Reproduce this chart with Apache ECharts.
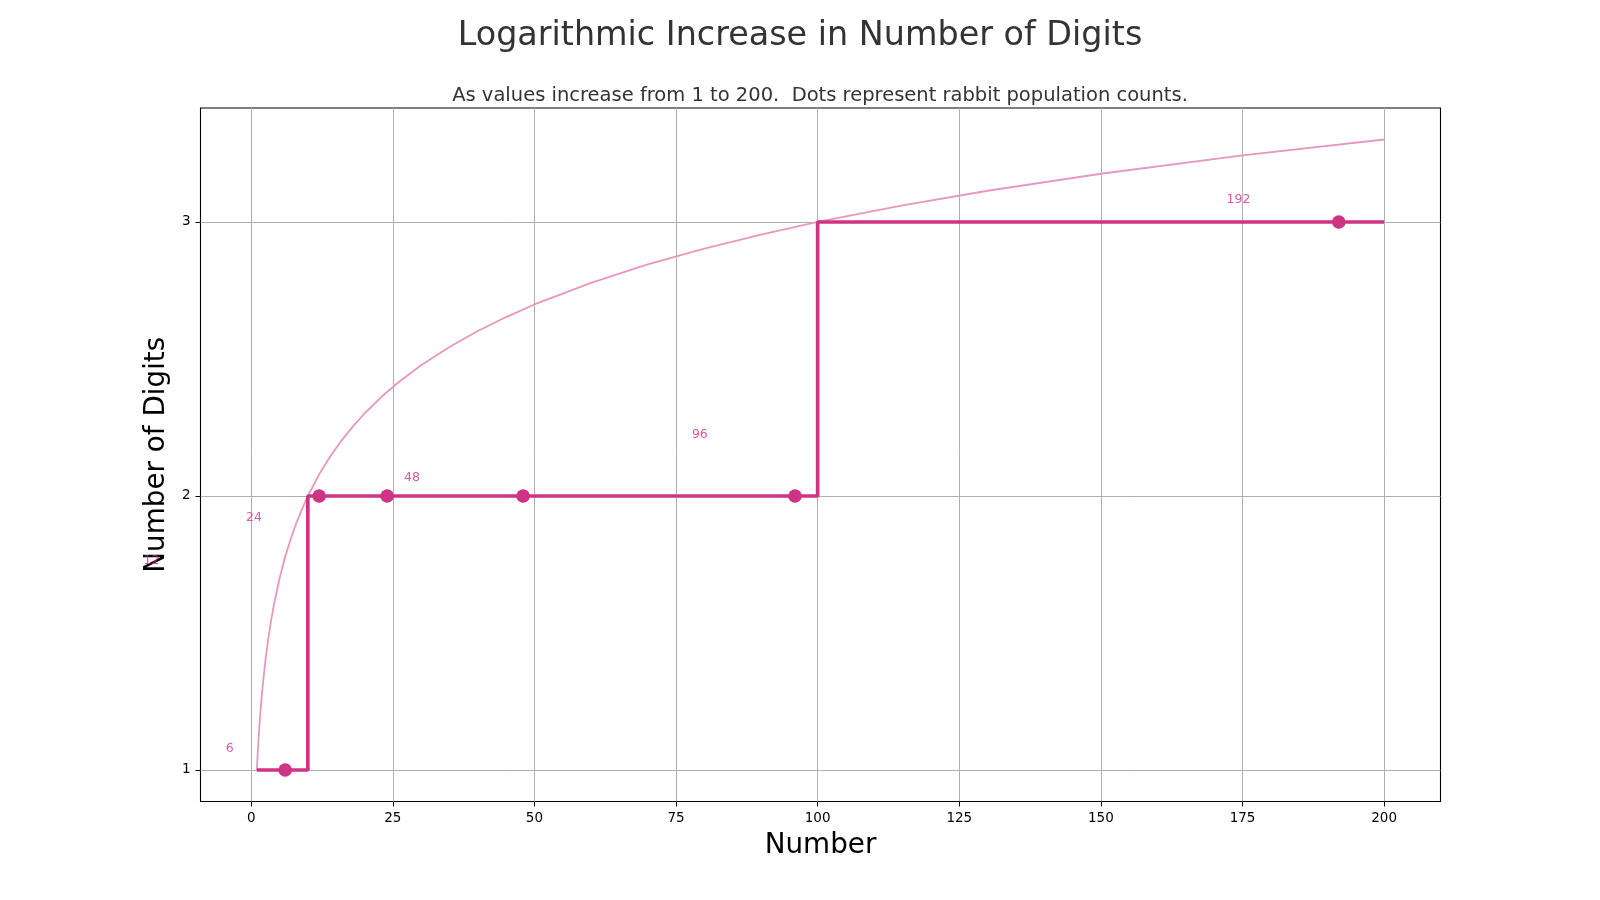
<!DOCTYPE html>
<html>
<head>
<meta charset="utf-8">
<title>Logarithmic Increase in Number of Digits</title>
<script src="https://cdn.jsdelivr.net/npm/echarts@6/dist/echarts.min.js"></script>
<style>
	html, body { margin: 0; padding: 0; background: #fff; overflow: hidden; }
	#chart { width: 1600px; height: 900px; }
</style>
</head>
<body>
<div id="chart"></div>
<script>
'use strict';
// log curve
var curveX = [1, 1.1, 1.25, 1.5, 1.75, 2, 2.5, 3, 3.5, 4, 5, 6, 7, 8, 9, 10, 12, 14, 16, 18, 20, 23, 26, 30, 35, 40, 45, 50, 60, 70, 80, 90, 100, 115, 130, 150, 175, 200];
var curveY = [1.000, 1.041, 1.097, 1.176, 1.243, 1.301, 1.398, 1.477, 1.544, 1.602, 1.699, 1.778, 1.845, 1.903, 1.954, 2.000, 2.079, 2.146, 2.204, 2.255, 2.301, 2.362, 2.415, 2.477, 2.544, 2.602, 2.653, 2.699, 2.778, 2.845, 2.903, 2.954, 3.000, 3.061, 3.114, 3.176, 3.243, 3.301];

// digit count steps
var stepX = [1, 10, 100, 200];
var stepY = [1, 2, 3, 3];

// rabbit counts
var rabbitCounts = [6, 12, 24, 48, 96, 192];
var rabbitDigits = [1, 2, 2, 2, 2, 3];

// where the count labels sit
var labelX = [-3.8, -17.6, 0.5, 28.4, 79.2, 174.3];
var labelY = [1.079, 1.765, 1.919, 2.067, 2.224, 3.080];

var xTicks = [0, 25, 50, 75, 100, 125, 150, 175, 200];
var yTicks = [1, 2, 3];

var stepColor = '#cf3384';
var curveColor = '#e797c0';
var labelColor = '#d62e87';
var font = 'DejaVu Sans';

function pairs(xs, ys) {
	var out = [];
	for (var i = 0; i < xs.length; i++) {
		out.push([xs[i], ys[i]]);
	}
	return out;
}

function labelData() {
	var out = [];
	for (var i = 0; i < rabbitCounts.length; i++) {
		out.push({ value: [labelX[i], labelY[i]], name: String(rabbitCounts[i]) });
	}
	return out;
}

var myChart = echarts.init(document.getElementById('chart'));

var option = {
	animation: false,
	backgroundColor: '#fff',
	title: [{
		text: 'Logarithmic Increase in Number of Digits',
		left: 'center',
		top: 15,
		textStyle: { fontFamily: font, fontSize: 33.4, fontWeight: 'normal', color: '#333333' }
	}, {
		// centred over the plot, not the page
		text: 'As values increase from 1 to 200.  Dots represent rabbit population counts.',
		left: 815,
		textAlign: 'center',
		top: 81,
		textStyle: { fontFamily: font, fontSize: 19.5, fontWeight: 'normal', color: '#333333' }
	}],
	grid: {
		left: 200.5,
		right: 159.5,
		top: 108,
		bottom: 98.5,
		show: true,
		borderColor: '#000',
		borderWidth: 1.1
	},
	xAxis: {
		type: 'value',
		min: -8.95,
		max: 209.95,
		name: 'Number',
		nameLocation: 'middle',
		nameGap: 30,
		nameTextStyle: { fontFamily: font, fontSize: 27.8, color: '#000' },
		axisLine: { show: false, onZero: false },
		axisTick: { show: true, length: 5, lineStyle: { color: '#000' }, customValues: xTicks },
		axisLabel: { fontFamily: font, fontSize: 13.5, color: '#000', margin: 10, customValues: xTicks },
		splitLine: { show: true, lineStyle: { color: '#b0b0b0', width: 1 } }
	},
	yAxis: {
		type: 'value',
		min: 0.885,
		max: 3.416,
		name: 'Number of Digits',
		nameLocation: 'middle',
		nameGap: 22,
		nameTextStyle: { fontFamily: font, fontSize: 27.8, color: '#000' },
		axisLine: { show: false, onZero: false },
		axisTick: { show: true, length: 5, lineStyle: { color: '#000' }, customValues: yTicks },
		axisLabel: { fontFamily: font, fontSize: 13.5, color: '#000', margin: 10, customValues: yTicks },
		splitLine: { show: true, lineStyle: { color: '#b0b0b0', width: 1 } }
	},
	series: [{
		type: 'line',
		data: pairs(curveX, curveY),
		showSymbol: false,
		lineStyle: { color: curveColor, width: 1.8 },
		z: 2
	}, {
		type: 'line',
		data: pairs(stepX, stepY),
		step: 'end',
		showSymbol: false,
		lineStyle: { color: stepColor, width: 3.7 },
		z: 3
	}, {
		type: 'scatter',
		data: pairs(rabbitCounts, rabbitDigits),
		symbolSize: 13.5,
		itemStyle: { color: stepColor, opacity: 1 },
		z: 4
	}, {
		type: 'scatter',
		data: labelData(),
		symbolSize: 1,
		clip: false,
		silent: true,
		zlevel: 1,
		itemStyle: { color: 'rgba(0,0,0,0)' },
		label: {
			show: true,
			position: 'inside',
			formatter: '{b}',
			fontFamily: font,
			fontSize: 12.5,
			color: labelColor
		},
		z: 5
	}]
};

myChart.setOption(option);
</script>
</body>
</html>
